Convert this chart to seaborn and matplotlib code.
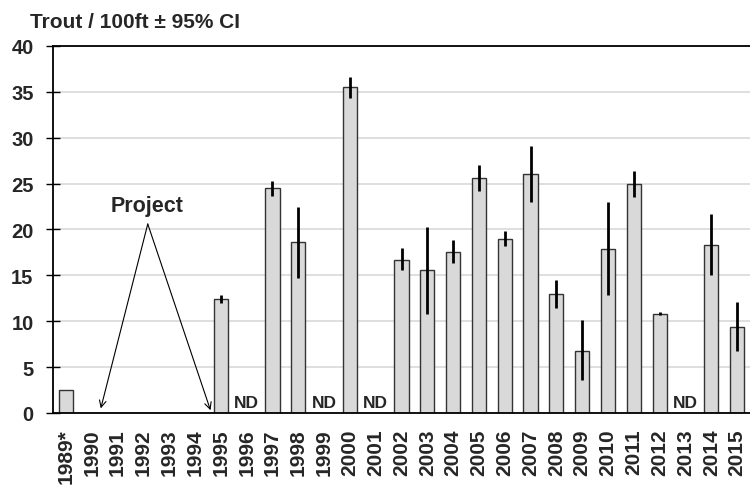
import numpy as np
import pandas as pd
import matplotlib
matplotlib.use("Agg")
import matplotlib.pyplot as plt
import seaborn as sns

# Trout density by survey year with 95% confidence limits
years = ["1989*", "1990", "1991", "1992", "1993", "1994", "1995", "1996", "1997",
         "1998", "1999", "2000", "2001", "2002", "2003", "2004", "2005", "2006",
         "2007", "2008", "2009", "2010", "2011", "2012", "2013", "2014", "2015"]
trout = [2.5, np.nan, np.nan, np.nan, np.nan, np.nan, 12.4, np.nan, 24.5,
         18.6, np.nan, 35.5, np.nan, 16.7, 15.6, 17.6, 25.6, 19.0,
         26.1, 13.0, 6.8, 17.9, 25.0, 10.8, np.nan, 18.3, 9.4]
ci_low = [np.nan, np.nan, np.nan, np.nan, np.nan, np.nan, 12.0, np.nan, 23.7,
          14.7, np.nan, 34.3, np.nan, 15.6, 10.8, 16.3, 24.2, 18.2,
          23.0, 11.4, 3.6, 12.9, 23.5, 10.7, np.nan, 15.0, 6.8]
ci_high = [np.nan, np.nan, np.nan, np.nan, np.nan, np.nan, 12.9, np.nan, 25.3,
           22.5, np.nan, 36.6, np.nan, 18.0, 20.3, 18.8, 27.0, 19.8,
           29.1, 14.5, 10.1, 23.0, 26.4, 11.0, np.nan, 21.7, 12.1]
no_data = ["1996", "1999", "2001", "2013"]
y_ticks = [0, 5, 10, 15, 20, 25, 30, 35, 40]

df = pd.DataFrame({"year": years, "trout": trout, "lo": ci_low, "hi": ci_high})

sns.set_theme(style="white")
plt.rcParams["font.family"] = ["Liberation Sans", "DejaVu Sans"]
plt.rcParams["font.weight"] = "bold"

fig = plt.figure(figsize=(7.5, 4.89), dpi=100)
ax = fig.add_axes([0.0707, 0.1534, 0.9293, 0.7505])

sns.barplot(data=df.dropna(subset=["trout"]), x="year", y="trout", order=years,
            color="#D9D9D9", saturation=1, width=0.55, errorbar=None,
            edgecolor="#333333", linewidth=1.0, ax=ax, zorder=2)

# confidence interval whiskers
pos = {y: i for i, y in enumerate(years)}
ci = df.dropna(subset=["lo"])
ax.vlines([pos[y] for y in ci["year"]], ci["lo"], ci["hi"], color="black",
          linewidth=2, zorder=3)

# years without sampling
for y in no_data:
    ax.text(pos[y], 0.3, "ND", ha="center", va="bottom", fontsize=12.5,
            fontweight="bold", zorder=4)

# project annotation
ax.text(3.15, 22.6, "Project", ha="center", va="center", fontsize=15.5,
        fontweight="bold")
for tx, ty in [(1.35, 0.5), (5.6, 0.3)]:
    ax.annotate("", xy=(tx, ty), xytext=(3.17, 20.6),
                arrowprops=dict(arrowstyle="->", color="black", lw=0.8,
                                mutation_scale=12, shrinkA=0, shrinkB=0))

ax.set_xlim(-0.5, len(years) - 0.5)
ax.set_ylim(0, 40)
ax.set_yticks(y_ticks)
ax.set_yticklabels([str(v) for v in y_ticks], fontsize=14.5, fontweight="bold")
ax.yaxis.grid(True, color="#D9D9D9", linewidth=1.2, zorder=0)
ax.set_axisbelow(True)

ax.set_xticks(range(len(years)))
ax.set_xticklabels(years, rotation=90, fontsize=15, fontweight="bold")
ax.set_xticks(np.arange(len(years) + 1) - 0.5, minor=True)
ax.tick_params(axis="x", which="major", length=0, pad=11)
ax.tick_params(axis="x", which="minor", direction="inout", length=10,
               width=1, color="black")
ax.tick_params(axis="y", direction="inout", length=10, width=1,
               color="black", pad=9, left=True)
ax.set_xlabel("")
ax.set_ylabel("")

for side in ["left", "bottom", "top"]:
    ax.spines[side].set_visible(True)
    ax.spines[side].set_color("black")
    ax.spines[side].set_linewidth(1.3)
ax.spines["right"].set_visible(False)

fig.text(30 / 750, 1 - 28 / 489, "Trout / 100ft \u00b1 95% CI", fontsize=15,
         fontweight="bold", ha="left", va="baseline")

fig.savefig("out.png", dpi=100)
